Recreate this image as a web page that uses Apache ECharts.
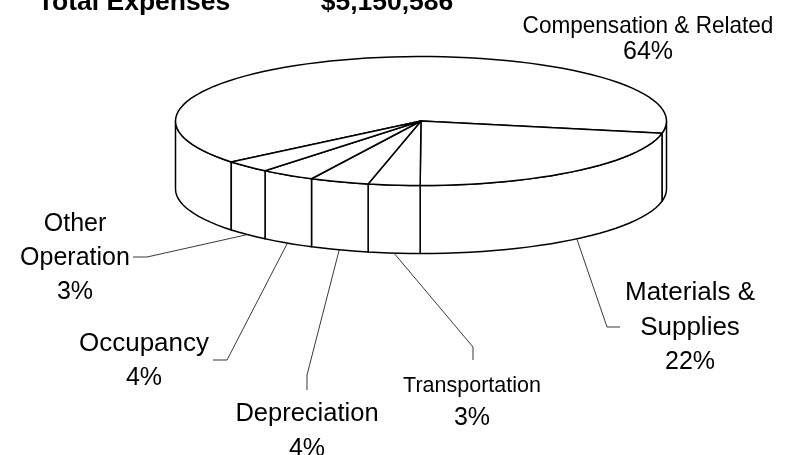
<!DOCTYPE html>
<html>
<head>
<meta charset="utf-8">
<title>Total Expenses</title>
<script src="https://cdn.jsdelivr.net/npm/echarts@6/dist/echarts.min.js"></script>
<style>
  html, body { margin: 0; padding: 0; background: #fff; }
  #main { width: 796px; height: 455px; }
</style>
</head>
<body>
<div id="main"></div>
<script>
// values read from the slice edges, labels show them rounded
const categories = ['Compensation & Related', 'Materials &\nSupplies', 'Transportation', 'Depreciation', 'Occupancy', 'Other\nOperation']
const values = [64.0, 22.0, 3.4, 3.9, 3.6, 3.1]
const titleLeft = 'Total Expenses'
const titleRight = '$5,150,586'

// pie geometry
const cx = 421, cy = 121, rx = 245.5, ry = 64.5, depth = 68
const startAngle = 140.6

// label layout, same order as categories: centre x, first line y, line step
const labelPos = [[648, 26], [690, 293], [472, 386], [307, 414], [144, 344], [75, 224]]
const labelLine = [26, 34.5, 32.5, 35, 34, 34]
const nameSize = [24, 26, 21.5, 25.5, 26, 25]
const nameSqueeze = [0.94, 1, 1, 1, 1, 1]
const percentSize = 25
// leader bend and end, null = no leader
const leaders = [
  null,
  [[607, 327], [620, 327]],
  [[473, 347], [473, 360]],
  [[307, 375], [307, 390]],
  [[227, 360], [213, 360]],
  [[147, 257], [133, 257]]
]

const total = values.reduce((a, b) => a + b, 0)
const font = '"Liberation Sans", Arial, sans-serif'

function pt(deg, dy) {
  const t = deg * Math.PI / 180
  return [cx + rx * Math.cos(t), cy + ry * Math.sin(t) + (dy || 0)]
}

function arc(a0, a1, dy) {
  const pts = []
  const n = Math.max(2, Math.ceil(Math.abs(a1 - a0) / 3))
  for (let i = 0; i <= n; i++) pts.push(pt(a0 + (a1 - a0) * i / n, dy))
  return pts
}

const lineStyle = { fill: '#fff', stroke: '#000', lineWidth: 1.5, lineJoin: 'round' }

function labelLines(i, value) {
  const x = labelPos[i][0]
  const names = categories[i].split('\n')
  const out = names.map((name, k) => ({
    type: 'text',
    scaleX: nameSqueeze[i],
    originX: x,
    style: {
      x: x,
      y: labelPos[i][1] + k * labelLine[i],
      text: name,
      font: nameSize[i] + 'px ' + font,
      fill: '#000',
      align: 'center',
      verticalAlign: 'middle'
    }
  }))
  out.push({
    type: 'text',
    style: {
      x: x,
      y: labelPos[i][1] + names.length * labelLine[i],
      text: Math.round(value) + '%',
      font: percentSize + 'px ' + font,
      fill: '#000',
      align: 'center',
      verticalAlign: 'middle'
    }
  })
  return out
}

function renderSlice(params, api) {
  const i = params.dataIndex
  let a0 = startAngle
  for (let k = 0; k < i; k++) a0 += values[k] / total * 360
  const a1 = a0 + api.value(1) / total * 360
  const children = []

  // front wall, only the parts between 0 and 180 degrees show
  for (const turn of [0, 360]) {
    const from = Math.max(a0, turn), to = Math.min(a1, turn + 180)
    if (from < to) {
      children.push({
        type: 'polygon',
        shape: { points: arc(from, to, 0).concat(arc(to, from, depth)) },
        style: lineStyle
      })
    }
  }
  children.push({
    type: 'polygon',
    shape: { points: [[cx, cy]].concat(arc(a0, a1, 0)) },
    style: lineStyle
  })

  // leader line starts on the lower rim at the middle of the slice
  if (leaders[i]) {
    children.push({
      type: 'polyline',
      shape: { points: [pt((a0 + a1) / 2, depth)].concat(leaders[i]) },
      style: { fill: null, stroke: '#222', lineWidth: 0.9 }
    })
  }
  return { type: 'group', children: children.concat(labelLines(i, api.value(1))) }
}

const chart = echarts.init(document.getElementById('main'), null, { renderer: 'canvas' })
chart.setOption({
  backgroundColor: '#fff',
  animation: false,
  graphic: [
    { type: 'text', style: { x: 134, y: 3, text: titleLeft, font: 'bold 26.5px ' + font, fill: '#000', align: 'center', verticalAlign: 'middle' } },
    { type: 'text', style: { x: 387, y: 3, text: titleRight, font: 'bold 26.5px ' + font, fill: '#000', align: 'center', verticalAlign: 'middle' } }
  ],
  series: [{
    type: 'custom',
    coordinateSystem: 'none',
    renderItem: renderSlice,
    data: values.map((v, i) => [i, v])
  }]
})
</script>
</body>
</html>
